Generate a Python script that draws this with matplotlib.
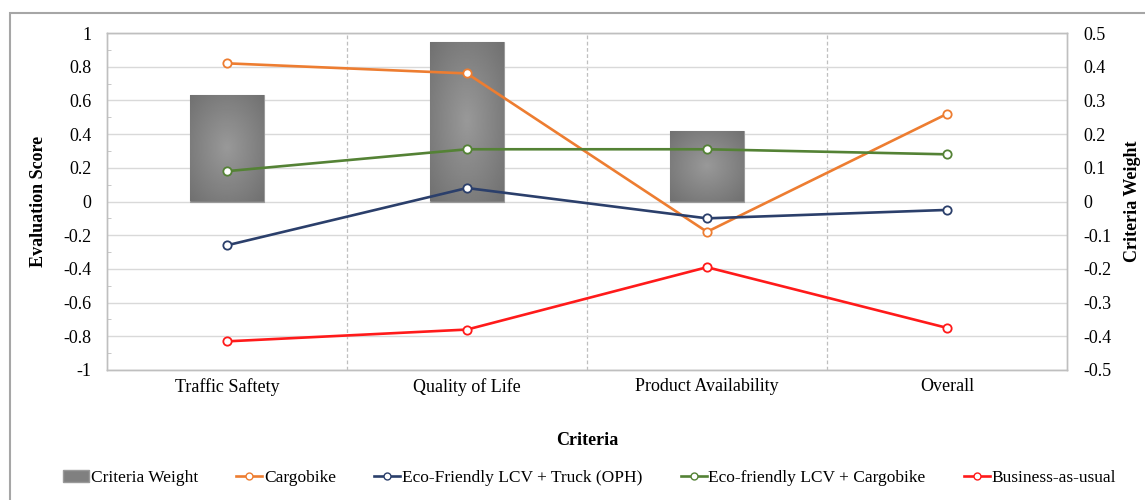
import numpy as np
import matplotlib
matplotlib.use("Agg")
import matplotlib.pyplot as plt
from matplotlib.patches import Rectangle, Patch
from matplotlib.lines import Line2D
from matplotlib.ticker import MultipleLocator

plt.rcParams['font.family'] = ['Liberation Serif', 'DejaVu Serif']

categories = ["Traffic Saftety", "Quality of Life", "Product Availability", "Overall"]
weight_cats = ["Traffic Saftety", "Quality of Life", "Product Availability"]
criteria_weight = [0.317, 0.474, 0.209]
cargobike = [0.82, 0.76, -0.18, 0.52]
eco_truck = [-0.26, 0.08, -0.10, -0.05]
eco_cargobike = [0.18, 0.31, 0.31, 0.28]
business_as_usual = [-0.83, -0.76, -0.39, -0.75]
left_ticks = [1, 0.8, 0.6, 0.4, 0.2, 0, -0.2, -0.4, -0.6, -0.8, -1]
right_ticks = [0.5, 0.4, 0.3, 0.2, 0.1, 0, -0.1, -0.2, -0.3, -0.4, -0.5]

series = [
    ("Cargobike", cargobike, "#ED7D31"),
    ("Eco-Friendly LCV + Truck (OPH)", eco_truck, "#2B3F6B"),
    ("Eco-friendly LCV + Cargobike", eco_cargobike, "#548235"),
    ("Business-as-usual", business_as_usual, "#FF1A1A"),
]

fig = plt.figure(figsize=(11.45, 5.0), dpi=100)
fig.patches.append(Rectangle((10/1145, -0.1), 1.2, 1.1 - 13/500, transform=fig.transFigure,
                             fill=False, edgecolor="#A6A6A6", linewidth=1.5))

ax = fig.add_axes([107/1145, 1-370/500, (1067-107)/1145, (370-33)/500])
ax2 = ax.twinx()
ax2.set_zorder(1)
ax.set_zorder(2)
ax.patch.set_visible(False)

x = np.arange(len(categories))
xw = np.arange(len(weight_cats))

ax2.set_ylim(-0.5, 0.5)
ax2.set_yticks(right_ticks)
ax2.grid(axis='y', color="#D9D9D9", linewidth=1.0, zorder=0)
ax2.set_axisbelow(True)
for b in [0.5, 1.5, 2.5]:
    ax2.axvline(b, color="#BFBFBF", linestyle=(0, (3, 2)), linewidth=0.9, zorder=0.5)

bars = ax2.bar(xw, criteria_weight, width=0.305, color="#808080", edgecolor="#9A9A9A",
               linewidth=0.8, zorder=2)
for r in bars:
    bx, by = r.get_x(), r.get_y()
    bw, bh = r.get_width(), r.get_height()
    gx, gy = np.meshgrid(np.linspace(-1, 1, 100), np.linspace(-1, 1, 100))
    d = np.sqrt(gx**2 + gy**2) / np.sqrt(2)
    img = 0.60 - 0.16 * d
    im = ax2.imshow(img, extent=[bx, bx + bw, by, by + bh], cmap='gray', vmin=0, vmax=1,
                    aspect='auto', zorder=2.1, interpolation='bilinear')
    im.set_clip_path(r)

for name, vals, col in series:
    ax.plot(x, vals, color=col, linewidth=1.9, marker='o', markersize=6,
            markerfacecolor='white', markeredgecolor=col, markeredgewidth=1.3, zorder=3)

ax.set_xlim(-0.5, 3.5)
ax2.set_xlim(-0.5, 3.5)
ax.set_ylim(-1, 1)
ax2.set_ylim(-0.5, 0.5)
ax.set_yticks(left_ticks)
ax.set_yticklabels(["%g" % v for v in left_ticks])
ax.yaxis.set_minor_locator(MultipleLocator(0.1))
ax.set_xticks(x)
ax.set_xticklabels(categories, fontsize=13)
ax.tick_params(axis='x', length=0, pad=6)
ax.tick_params(axis='y', which='major', length=0, labelsize=13, pad=11)
ax.tick_params(axis='y', which='minor', length=3, direction='in', color="#BFBFBF")
ax2.set_yticks(right_ticks)
ax2.set_yticklabels(["%g" % v for v in right_ticks])
ax2.tick_params(axis='y', length=0, labelsize=13, pad=12)
ax2.tick_params(axis='x', length=0)

for a in (ax, ax2):
    for s in a.spines.values():
        s.set_color("#BFBFBF")
        s.set_linewidth(1.0)

ax.set_ylabel("Evaluation Score", fontsize=13, fontweight='bold', labelpad=12)
ax2.set_ylabel("Criteria Weight", fontsize=13, fontweight='bold', labelpad=9)
ax.set_xlabel("Criteria", fontsize=13, fontweight='bold', labelpad=26)

handles = [Patch(facecolor="#808080", edgecolor="#9A9A9A", label="Criteria Weight")]
for name, vals, col in series:
    handles.append(Line2D([0], [0], color=col, linewidth=1.9, marker='o', markersize=5,
                          markerfacecolor='white', markeredgecolor=col, label=name))
fig.legend(handles=handles, loc='center', bbox_to_anchor=(0.515, 0.044), ncol=5,
           frameon=False, fontsize=12.5, handlelength=1.5, handletextpad=0.1,
           columnspacing=2.2)

fig.savefig("out.png", dpi=100)
